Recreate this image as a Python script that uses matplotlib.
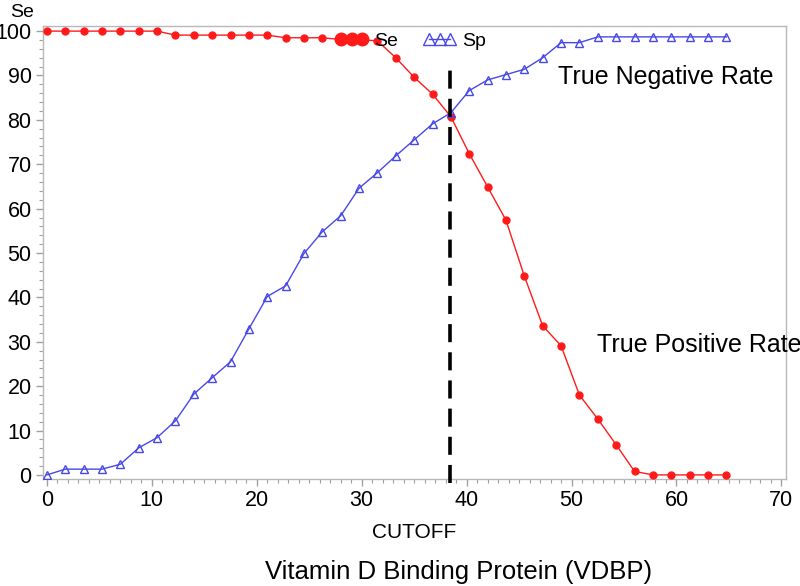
import matplotlib
matplotlib.use('Agg')
import matplotlib.pyplot as plt
from matplotlib.lines import Line2D
from matplotlib.ticker import MultipleLocator

plt.rcParams['font.family'] = ['Liberation Sans', 'DejaVu Sans']

# cutoff values (x)
cutoff = [0.0, 1.75, 3.5, 5.25, 7.0, 8.75, 10.5, 12.25, 14.0, 15.75,
          17.5, 19.25, 21.0, 22.75, 24.5, 26.25, 28.0, 29.75, 31.5, 33.25,
          35.0, 36.75, 38.5, 40.25, 42.0, 43.75, 45.5, 47.25, 49.0, 50.75,
          52.5, 54.25, 56.0, 57.75, 59.5, 61.25, 63.0, 64.75]

# sensitivity (true positive rate)
se = [100, 100, 100, 100, 100, 100, 100, 99.1, 99.1, 99.1,
      99.1, 99.1, 99.1, 98.5, 98.5, 98.5, 98.1, 98.1, 97.8, 94.0,
      89.6, 85.8, 80.7, 72.4, 64.9, 57.4, 44.8, 33.6, 29.1, 18.0,
      12.6, 6.8, 0.8, 0, 0, 0, 0, 0]

# specificity (true negative rate)
sp = [0, 1.3, 1.3, 1.3, 2.4, 6.1, 8.4, 12.2, 18.2, 21.9,
      25.5, 32.9, 40.2, 42.6, 49.9, 54.8, 58.4, 64.6, 68.1, 71.9,
      75.5, 79.1, 81.6, 86.6, 89.0, 90.2, 91.4, 94.0, 97.4, 97.4,
      98.7, 98.7, 98.7, 98.7, 98.7, 98.7, 98.7, 98.7]

best_cutoff = 38.4

red = '#ff1a1a'
blue = '#4848e8'

fig = plt.figure(figsize=(8, 5.86), dpi=100)
ax = fig.add_axes([0.0534, 0.182, 0.9286, 0.774])

ax.plot(cutoff, se, color=red, lw=1, marker='o', ms=5, mfc=red, mec=red, zorder=3)
ax.plot(cutoff, sp, color=blue, lw=1, marker='^', ms=5.5, mfc='none', mec=blue, mew=1, zorder=3)

ax.vlines(best_cutoff, -1.8, 93, colors='black', linestyles=(0, (5, 2.8)), lw=2.6,
          clip_on=False, zorder=4)

ax.set_xlim(-0.4, 70.4)
ax.set_ylim(-1, 101.2)
ax.xaxis.set_major_locator(MultipleLocator(10))
ax.xaxis.set_minor_locator(MultipleLocator(1))
ax.yaxis.set_major_locator(MultipleLocator(10))
ax.yaxis.set_minor_locator(MultipleLocator(2))
ax.tick_params(which='major', direction='out', length=5, width=1, color='#a0a0a0',
               labelsize=15.5, pad=3)
ax.tick_params(which='minor', direction='out', length=3, width=0.8, color='#a0a0a0')
for s in ax.spines.values():
    s.set_color('#b8b8b8')
    s.set_linewidth(1)

ax.set_xlabel('CUTOFF', fontsize=15, labelpad=8)

handles = [Line2D([], [], color=red, lw=1, marker='o', ms=9, mfc=red, mec=red),
           Line2D([], [], color=blue, lw=1, marker='^', ms=9, mfc='none', mec=blue)]
ax.legend(handles, ['Se', 'Sp'], loc='center', bbox_to_anchor=(0.495, 0.967), ncol=2,
          numpoints=3, handlelength=1.7, handletextpad=0.3, columnspacing=1.3,
          frameon=False, fontsize=14, borderaxespad=0)

ax.text(59.0, 89.6, 'True Negative Rate', fontsize=18, ha='center', va='center')
ax.text(62.2, 29.3, 'True Positive Rate', fontsize=18, ha='center', va='center')

fig.text(0.028, 0.979, 'Se', fontsize=14, ha='center', va='center')
fig.text(0.573, 0.024, 'Vitamin D Binding Protein (VDBP)', fontsize=18.5, ha='center', va='center')

fig.savefig('out.png', dpi=100)
